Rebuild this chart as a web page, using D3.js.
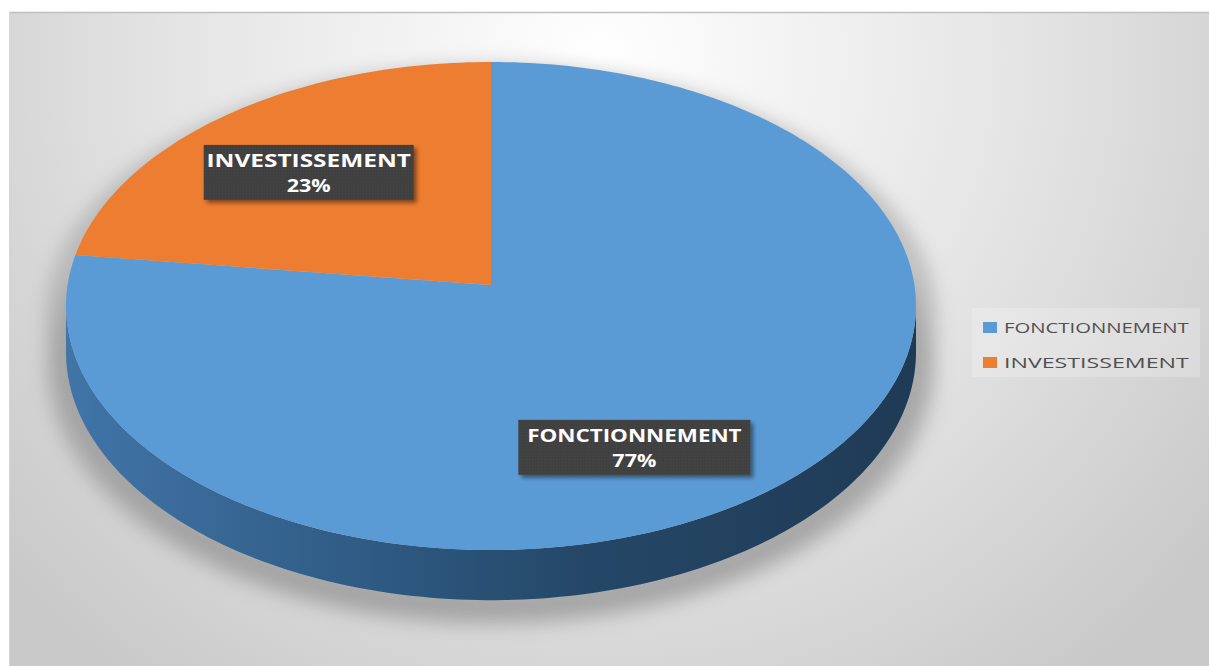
<!DOCTYPE html>
<html lang="fr">
<head>
<meta charset="UTF-8">
<title>Fonctionnement / Investissement</title>
<script src="https://d3js.org/d3.v7.min.js"></script>
<style>
  body { margin: 0; background: #fff; }
  svg { display: block; }
</style>
</head>
<body>
<script>
// data
var categories = ['FONCTIONNEMENT', 'INVESTISSEMENT'];
var values = [77, 23];
var percentLabels = ['77%', '23%'];
var colors = ['#5b9bd5', '#ed7d31'];

var width = 1209, height = 666;

// 3d pie geometry (perspective tilt)
var cx = 491, cy = 306, rx = 425, ry = 244;
var k = -0.086;                 // perspective factor
var c = Math.sqrt(1 - k * k);
var depth = 46;

// label placement: angle shift (deg) and radius for each slice
var labelShift = [14.6, -1.4];
var labelRadius = [0.71, 0.66];

function proj(theta, r) {
    var u = Math.sin(theta) * r, v = -Math.cos(theta) * r;
    var den = 1 + k * v;
    return [cx + rx * u * c / den, cy + ry * (v + k) / den, c / den];
}

var svg = d3.select('body').append('svg')
    .attr('width', width)
    .attr('height', height);

var defs = svg.append('defs');

var bg = defs.append('radialGradient').attr('id', 'bg')
    .attr('gradientUnits', 'userSpaceOnUse')
    .attr('cx', 600).attr('cy', 60).attr('r', 780);
bg.append('stop').attr('offset', 0).attr('stop-color', '#ffffff');
bg.append('stop').attr('offset', 0.55).attr('stop-color', '#e4e4e4');
bg.append('stop').attr('offset', 1).attr('stop-color', '#c9c9c9');

var side = defs.append('linearGradient').attr('id', 'side')
    .attr('gradientUnits', 'userSpaceOnUse')
    .attr('x1', cx - rx).attr('x2', cx + rx).attr('y1', 0).attr('y2', 0);
side.append('stop').attr('offset', 0).attr('stop-color', '#4175a8');
side.append('stop').attr('offset', 0.35).attr('stop-color', '#2f5b84');
side.append('stop').attr('offset', 0.6).attr('stop-color', '#254868');
side.append('stop').attr('offset', 1).attr('stop-color', '#1f3a55');

var blur = defs.append('filter').attr('id', 'blur')
    .attr('x', '-20%').attr('y', '-20%').attr('width', '140%').attr('height', '140%');
blur.append('feGaussianBlur').attr('stdDeviation', 9);

var drop = defs.append('filter').attr('id', 'drop')
    .attr('x', '-10%').attr('y', '-20%').attr('width', '130%').attr('height', '160%');
drop.append('feDropShadow').attr('dx', 3).attr('dy', 3).attr('stdDeviation', 2)
    .attr('flood-color', '#000').attr('flood-opacity', 0.45);

var dots = defs.append('pattern').attr('id', 'dots')
    .attr('width', 3).attr('height', 3).attr('patternUnits', 'userSpaceOnUse');
dots.append('rect').attr('width', 3).attr('height', 3).attr('fill', '#3f3f3f');
dots.append('rect').attr('width', 1).attr('height', 1).attr('fill', '#4d4d4d');

// frame / background
svg.append('rect')
    .attr('x', 9).attr('y', 12)
    .attr('width', width - 9).attr('height', height - 12)
    .attr('fill', 'url(#bg)');
svg.append('line')
    .attr('x1', 9).attr('x2', width).attr('y1', 12.5).attr('y2', 12.5)
    .attr('stroke', '#bfbfbf').attr('stroke-width', 1.5);
svg.append('line')
    .attr('x1', 9.5).attr('x2', 9.5).attr('y1', 12).attr('y2', height)
    .attr('stroke', '#d6d6d6').attr('stroke-width', 1);

var pie = d3.pie().sort(null).value(function (d) { return d; });
var arcs = pie(values);

// where the side of the cylinder is visible (silhouette extremes)
var aRight = Math.acos(k);              // ~95 deg
var aLeft = 2 * Math.PI - aRight;

function rimPoints(a0, a1, r, dy) {
    var n = Math.max(2, Math.ceil(Math.abs(a1 - a0) / 0.02));
    return d3.range(n + 1).map(function (i) {
        var t = a0 + (a1 - a0) * i / n;
        var p = proj(t, r);
        return [p[0], p[1] + (dy ? depth * p[2] : 0)];
    });
}

var line = d3.line();

// soft floor shadow under the pie
var sil = rimPoints(aLeft - 2 * Math.PI, aRight, 1.05, false)
    .concat(rimPoints(aRight, aLeft, 1.05, true));
svg.append('path')
    .attr('d', line(sil) + 'Z')
    .attr('transform', 'translate(0,12)')
    .attr('fill', '#9a9a9a')
    .attr('opacity', 0.5)
    .attr('filter', 'url(#blur)');
svg.append('path')
    .attr('d', line(rimPoints(aRight - 0.3, aLeft + 0.3, 1.0, true)))
    .attr('transform', 'translate(0,6)')
    .attr('fill', 'none')
    .attr('stroke', '#8a8a8a')
    .attr('stroke-width', 18)
    .attr('opacity', 0.55)
    .attr('filter', 'url(#blur)');

// sides
arcs.forEach(function (d, i) {
    var a0 = Math.max(d.startAngle, aRight);
    var a1 = Math.min(d.endAngle, aLeft);
    if (a1 <= a0) return;
    var pts = rimPoints(a0, a1, 1, false).concat(rimPoints(a1, a0, 1, true));
    svg.append('path')
        .attr('d', line(pts) + 'Z')
        .attr('fill', i === 0 ? 'url(#side)' : d3.color(colors[i]).darker(1.2));
});

// top faces
arcs.forEach(function (d, i) {
    var pts = [proj(0, 0)].concat(rimPoints(d.startAngle, d.endAngle, 1, false));
    svg.append('path')
        .attr('d', line(pts.map(function (p) { return [p[0], p[1]]; })) + 'Z')
        .attr('fill', colors[i]);
});

// data labels
var boxW = [232, 210], boxH = 55;
arcs.forEach(function (d, i) {
    var mid = (d.startAngle + d.endAngle) / 2 + labelShift[i] * Math.PI / 180;
    var p = proj(mid, labelRadius[i]);
    var g = svg.append('g').attr('transform', 'translate(' + p[0] + ',' + p[1] + ')');
    g.append('rect')
        .attr('x', -boxW[i] / 2).attr('y', -boxH / 2)
        .attr('width', boxW[i]).attr('height', boxH)
        .attr('fill', 'url(#dots)')
        .attr('filter', 'url(#drop)');
    g.append('text')
        .attr('y', -5)
        .attr('text-anchor', 'middle')
        .attr('font-family', 'Open Sans, sans-serif')
        .attr('font-weight', 700)
        .attr('font-size', 17)
        .attr('fill', '#ffffff')
        .attr('textLength', categories[i].length * 14.6 + (i === 0 ? 10 : 0))
        .attr('lengthAdjust', 'spacingAndGlyphs')
        .text(categories[i]);
    g.append('text')
        .attr('y', 20)
        .attr('text-anchor', 'middle')
        .attr('font-family', 'Open Sans, sans-serif')
        .attr('font-weight', 700)
        .attr('font-size', 18)
        .attr('fill', '#ffffff')
        .attr('textLength', 44)
        .attr('lengthAdjust', 'spacingAndGlyphs')
        .text(percentLabels[i]);
});

// legend
var legend = svg.append('g').attr('transform', 'translate(972,308)');
legend.append('rect')
    .attr('width', 228).attr('height', 69)
    .attr('fill', '#ffffff').attr('opacity', 0.22);
var items = legend.selectAll('g.item')
    .data(categories)
    .enter().append('g')
    .attr('class', 'item')
    .attr('transform', function (d, i) { return 'translate(0,' + (14 + i * 35) + ')'; });
items.append('rect')
    .attr('x', 11).attr('width', 14).attr('height', 11)
    .attr('fill', function (d, i) { return colors[i]; });
items.append('text')
    .attr('x', 32).attr('y', 11)
    .attr('font-family', 'Open Sans, sans-serif')
    .attr('font-size', 15)
    .attr('fill', '#505050')
    .attr('textLength', function (d) { return d.length * 13.2; })
    .attr('lengthAdjust', 'spacingAndGlyphs')
    .text(function (d) { return d; });
</script>
</body>
</html>
